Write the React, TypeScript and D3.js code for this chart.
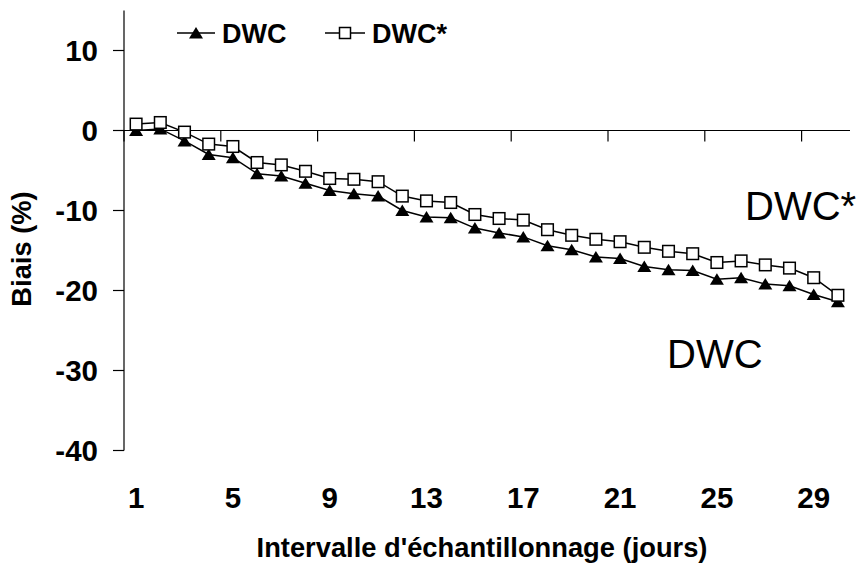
import React from "react";
import * as d3 from "d3";

const categories: number[] = Array.from({ length: 30 }, (_, i) => i + 1);
const dwc: number[] = [0.0, 0.2, -1.3, -3.0, -3.4, -5.4, -5.7, -6.6, -7.5, -7.9, -8.2, -10.0, -10.8, -10.9, -12.2, -12.8, -13.3, -14.4, -14.9, -15.8, -16.0, -17.0, -17.4, -17.5, -18.6, -18.4, -19.2, -19.4, -20.5, -21.4];
const dwcStar: number[] = [0.8, 1.0, -0.2, -1.7, -2.0, -4.0, -4.3, -5.1, -6.0, -6.1, -6.4, -8.2, -8.8, -9.0, -10.5, -11.0, -11.2, -12.4, -13.1, -13.6, -13.9, -14.6, -15.1, -15.4, -16.5, -16.3, -16.8, -17.2, -18.4, -20.6];
const xTickLabels: number[] = [1, 5, 9, 13, 17, 21, 25, 29];
const yTicks: number[] = [10, 0, -10, -20, -30, -40];
const seriesNames: string[] = ["DWC", "DWC*"];

const W = 861;
const H = 567;
const FONT = "'Liberation Sans', Arial, sans-serif";

const triPath = "M0,-6L7,5.5L-7,5.5Z";

export default function App() {
  const x = d3.scaleBand<number>().domain(categories).range([124, 850]).padding(0);
  const bw = x.bandwidth();
  const cx = (c: number) => (x(c) as number) + bw / 2;
  const y = d3.scaleLinear().domain([-40, 15]).range([450.5, 10.5]);

  const line = d3
    .line<number>()
    .x((_, i) => cx(categories[i]))
    .y((d) => y(d));

  const y0 = y(0);

  return (
    <svg
      width={W}
      height={H}
      style={{ position: "absolute", left: 0, top: 0, background: "#fff" }}
      fontFamily={FONT}
    >
      <rect x={0} y={0} width={W} height={H} fill="#fff" />
      {/* Y axis */}
      <line x1={124} x2={124} y1={y(15)} y2={y(-40)} stroke="#000" strokeWidth={1.2} />
      {yTicks.map((t) => (
        <g key={t}>
          <line x1={113} x2={124} y1={y(t)} y2={y(t)} stroke="#000" strokeWidth={1.2} />
          <text
            x={98}
            y={y(t) + 10.5}
            textAnchor="end"
            fontSize={29.5}
            fontWeight="bold"
            fill="#000"
          >
            {t}
          </text>
        </g>
      ))}
      {/* X axis at zero */}
      <line x1={124} x2={850} y1={y0} y2={y0} stroke="#000" strokeWidth={1.2} />
      {xTickLabels.map((c) => (
        <g key={c}>
          <line
            x1={x(c) as number}
            x2={x(c) as number}
            y1={y0}
            y2={y0 + 11}
            stroke="#000"
            strokeWidth={1.2}
          />
          <text
            x={cx(c)}
            y={508}
            textAnchor="middle"
            fontSize={29.5}
            fontWeight="bold"
            fill="#000"
          >
            {c}
          </text>
        </g>
      ))}

      {/* DWC series */}
      <path d={line(dwc) || ""} fill="none" stroke="#000" strokeWidth={1.5} />
      {dwc.map((v, i) => (
        <path key={"t" + i} d={triPath} transform={`translate(${cx(categories[i])},${y(v)})`} fill="#000" />
      ))}
      {/* DWC* series */}
      <path d={line(dwcStar) || ""} fill="none" stroke="#000" strokeWidth={1.5} />
      {dwcStar.map((v, i) => (
        <rect
          key={"s" + i}
          x={cx(categories[i]) - 5.8}
          y={y(v) - 5.8}
          width={11.6}
          height={11.6}
          fill="#fff"
          stroke="#000"
          strokeWidth={1.5}
        />
      ))}

      {/* Legend */}
      <line x1={177} x2={215} y1={33} y2={33} stroke="#000" strokeWidth={1.5} />
      <path d={triPath} transform="translate(196,33)" fill="#000" />
      <text x={222} y={43} fontSize={27} fontWeight="bold" fill="#000">
        {seriesNames[0]}
      </text>
      <line x1={325} x2={365} y1={33} y2={33} stroke="#000" strokeWidth={1.5} />
      <rect x={339.5} y={27.5} width={11} height={11} fill="#fff" stroke="#000" strokeWidth={1.5} />
      <text x={372} y={43} fontSize={27} fontWeight="bold" fill="#000">
        {seriesNames[1]}
      </text>

      {/* Annotations */}
      <text x={745} y={220} fontSize={40} fill="#000">
        {seriesNames[1]}
      </text>
      <text x={667} y={368} fontSize={40} fill="#000">
        {seriesNames[0]}
      </text>

      {/* Axis titles */}
      <text
        x={482}
        y={557}
        textAnchor="middle"
        fontSize={27.3}
        fontWeight="bold"
        fill="#000"
      >
        Intervalle d'échantillonnage (jours)
      </text>
      <text
        transform="translate(31,249) rotate(-90)"
        textAnchor="middle"
        fontSize={27.3}
        fontWeight="bold"
        fill="#000"
      >
        Biais (%)
      </text>
    </svg>
  );
}
